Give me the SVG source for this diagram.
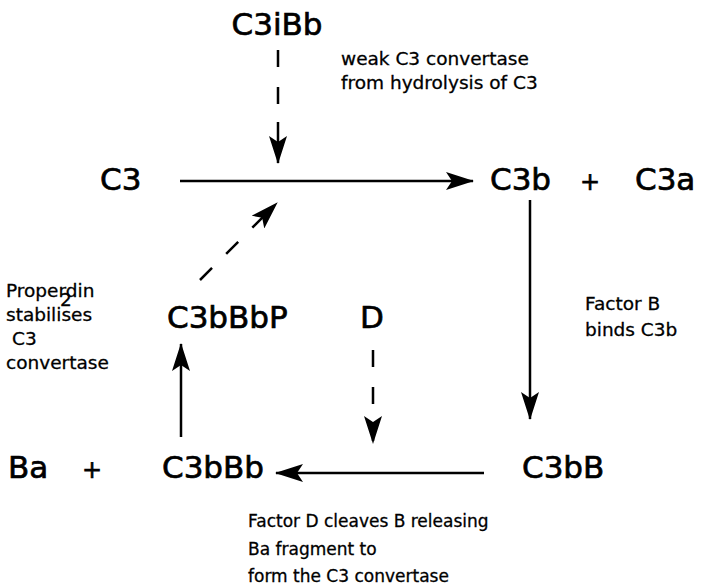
<svg xmlns="http://www.w3.org/2000/svg" width="727" height="587" viewBox="0 0 727 587">
  <style>
    .big { font-family: "DejaVu Sans", sans-serif; font-size: 31px; fill: #000; stroke: #000; stroke-width: 0.7; }
    .plus { font-family: "DejaVu Sans", sans-serif; font-size: 24px; fill: #000; stroke: #000; stroke-width: 0.6; }
    .note { font-family: "DejaVu Sans", sans-serif; font-size: 18.5px; fill: #000; stroke: #000; stroke-width: 0.3; }
    .note-s { font-family: "DejaVu Sans", sans-serif; font-size: 17px; fill: #000; stroke: #000; stroke-width: 0.3; }
    .line { stroke: #000; stroke-width: 2.5; fill: none; }
    .dash { stroke: #000; stroke-width: 2.5; fill: none; stroke-dasharray: 17 20; }
  </style>
  <defs>
    <marker id="head" viewBox="0 0 28 18" refX="27" refY="9" markerWidth="28" markerHeight="18" markerUnits="userSpaceOnUse" orient="auto">
      <path d="M0,0 L28,9 L0,18 L6,9 Z" fill="#000"/>
    </marker>
  </defs>

  <rect width="727" height="587" fill="#fff"/>

  <g id="connectors">
    <!-- C3 -> C3b -->
    <line class="line" x1="180" y1="181" x2="473" y2="181" marker-end="url(#head)"/>
    <!-- C3iBb weak convertase acting on the cleavage -->
    <line class="dash" x1="278" y1="50" x2="278" y2="110"/>
    <line class="line" x1="278" y1="122" x2="278" y2="163" marker-end="url(#head)"/>
    <!-- C3bBbP acting on the cleavage -->
    <line class="dash" x1="200" y1="280" x2="277" y2="203" stroke-dasharray="20 16" marker-end="url(#head)"/>
    <!-- C3b -> C3bB -->
    <line class="line" x1="530" y1="200" x2="530" y2="419" marker-end="url(#head)"/>
    <!-- C3bB -> C3bBb -->
    <line class="line" x1="484" y1="473" x2="276" y2="473" marker-end="url(#head)"/>
    <!-- D acting on cleavage of B -->
    <line class="dash" x1="373" y1="350" x2="373" y2="443" marker-end="url(#head)"/>
    <!-- C3bBb -> C3bBbP -->
    <line class="line" x1="181" y1="437" x2="181" y2="344" marker-end="url(#head)"/>
  </g>

  <g id="n-c3ibb"><text class="big" x="277" y="35" text-anchor="middle">C3iBb</text></g>
  <g id="note-weak">
    <text class="note" x="341" y="65">weak C3 convertase</text>
    <text class="note" x="341" y="89">from hydrolysis of C3</text>
  </g>
  <g id="n-c3"><text class="big" x="100" y="190">C3</text></g>
  <g id="n-c3b"><text class="big" x="490" y="190">C3b</text></g>
  <g id="plus-top"><text class="plus" x="590" y="190" text-anchor="middle">+</text></g>
  <g id="n-c3a"><text class="big" x="635" y="190">C3a</text></g>
  <g id="note-factor-b">
    <text class="note" x="585" y="310">Factor B</text>
    <text class="note" x="585" y="336">binds C3b</text>
  </g>
  <g id="n-c3bbbp"><text class="big" x="167" y="328">C3bBbP</text></g>
  <g id="n-d"><text class="big" x="360" y="328">D</text></g>
  <g id="note-properdin">
    <text class="note" x="6" y="297">Properdin</text>
    <text class="note" x="6" y="321">stabilises</text>
    <text class="note" x="60" y="306" font-size="11" stroke-width="0.2">2</text>
    <text class="note" x="12" y="345">C3</text>
    <text class="note" x="6" y="369">convertase</text>
  </g>
  <g id="n-ba"><text class="big" x="8" y="478">Ba</text></g>
  <g id="plus-bottom"><text class="plus" x="92" y="478" text-anchor="middle">+</text></g>
  <g id="n-c3bbb"><text class="big" x="162" y="478">C3bBb</text></g>
  <g id="n-c3bb"><text class="big" x="522" y="478">C3bB</text></g>
  <g id="note-factor-d">
    <text class="note-s" x="248" y="527">Factor D cleaves B releasing</text>
    <text class="note-s" x="248" y="555">Ba fragment to</text>
    <text class="note-s" x="248" y="582">form the C3 convertase</text>
  </g>
</svg>
